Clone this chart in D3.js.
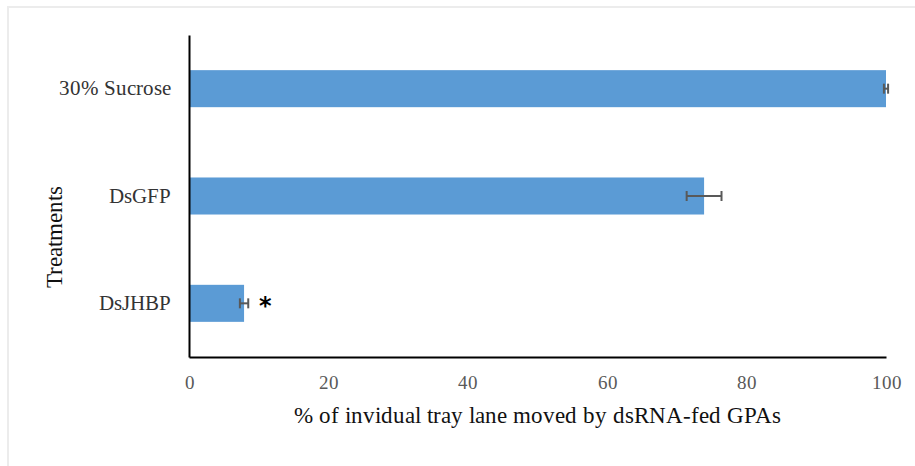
<!DOCTYPE html>
<html>
<head>
<meta charset="utf-8">
<script src="https://cdn.jsdelivr.net/npm/d3@7"></script>
<style>
  @font-face { font-family: "ChartSerif"; src: local("Liberation Serif"), local("LiberationSerif"), local("Tinos"), local("Times New Roman"); }
  html, body { margin: 0; padding: 0; background: #fff; }
  svg { display: block; }
  svg text { font-family: "ChartSerif", "Liberation Serif", Tinos, "Times New Roman", serif; }
  svg text.star { font-family: "DejaVu Sans", sans-serif; }
</style>
</head>
<body>
<svg id="chart" width="915" height="466"></svg>
<script>
// Treatment groups, top to bottom
const categories = ["30% Sucrose", "DsGFP", "DsJHBP"];
// Mean % of tray lane moved, with standard error
const values = [100, 73.9, 7.9];
const errors = [0.3, 2.5, 0.6];
// Significance markers per group
const marks = ["", "", "*"];
const xTicks = [0, 20, 40, 60, 80, 100];

const svg = d3.select("#chart");
const W = 915, H = 466;
const margin = { left: 189, right: 29, top: 35, bottom: 109 };

// Outer chart frame
svg.append("rect")
  .attr("x", 8).attr("y", 7)
  .attr("width", W + 10).attr("height", H + 10)
  .attr("fill", "#fff")
  .attr("stroke", "#ececec").attr("stroke-width", 2);

const x = d3.scaleLinear().domain([0, 100]).range([margin.left, W - margin.right]);
const y = d3.scaleBand().domain(categories)
  .range([margin.top, H - margin.bottom])
  .paddingInner(0.655).paddingOuter(0.3275);

const data = categories.map((c, i) => ({ c, v: values[i], e: errors[i], m: marks[i] }));

// Bars
svg.append("g").selectAll("rect").data(data).join("rect")
  .attr("x", x(0))
  .attr("y", d => y(d.c))
  .attr("width", d => x(d.v) - x(0))
  .attr("height", y.bandwidth())
  .attr("fill", "#5b9bd5");

// Error bars
const eb = svg.append("g").attr("stroke", "#595959").attr("stroke-width", 2);
data.forEach(d => {
  const cy = y(d.c) + y.bandwidth() / 2;
  eb.append("line").attr("x1", x(d.v - d.e)).attr("x2", x(d.v + d.e)).attr("y1", cy).attr("y2", cy);
  [d.v - d.e, d.v + d.e].forEach(v => {
    eb.append("line").attr("x1", x(v)).attr("x2", x(v)).attr("y1", cy - 5).attr("y2", cy + 5);
  });
});

// Significance asterisks
svg.append("g").selectAll("text").data(data.filter(d => d.m)).join("text")
  .attr("class", "star")
  .attr("x", d => x(d.v + d.e) + 17)
  .attr("y", d => y(d.c) + y.bandwidth() / 2 + 11)
  .attr("text-anchor", "middle")
  .attr("font-size", 24).attr("font-weight", "bold")
  .attr("fill", "#000")
  .text(d => d.m);

// X axis
const xAxis = svg.append("g")
  .attr("transform", `translate(0,${H - margin.bottom})`)
  .call(d3.axisBottom(x).tickValues(xTicks).tickSize(0).tickPadding(19))
  .attr("font-family", null).attr("font-size", 19);
xAxis.select(".domain").attr("stroke", "#000").attr("stroke-width", 2);
xAxis.selectAll("text").attr("fill", "#595959");

// Y axis
const yAxis = svg.append("g")
  .attr("transform", `translate(${margin.left},0)`)
  .call(d3.axisLeft(y).tickSize(0).tickPadding(18))
  .attr("font-family", null).attr("font-size", 21);
yAxis.select(".domain").attr("stroke", "#000").attr("stroke-width", 2);
yAxis.selectAll("text").attr("fill", "#333");

// Axis titles
svg.append("text")
  .attr("x", (x(0) + x(100)) / 2).attr("y", 423)
  .attr("text-anchor", "middle")
  .attr("font-size", 23)
  .attr("fill", "#111")
  .text("% of invidual tray lane moved by dsRNA-fed GPAs");

svg.append("text")
  .attr("transform", `translate(62,${(margin.top + H - margin.bottom) / 2 + 41}) rotate(-90)`)
  .attr("text-anchor", "middle")
  .attr("font-size", 23)
  .attr("fill", "#111")
  .text("Treatments");
</script>
</body>
</html>
